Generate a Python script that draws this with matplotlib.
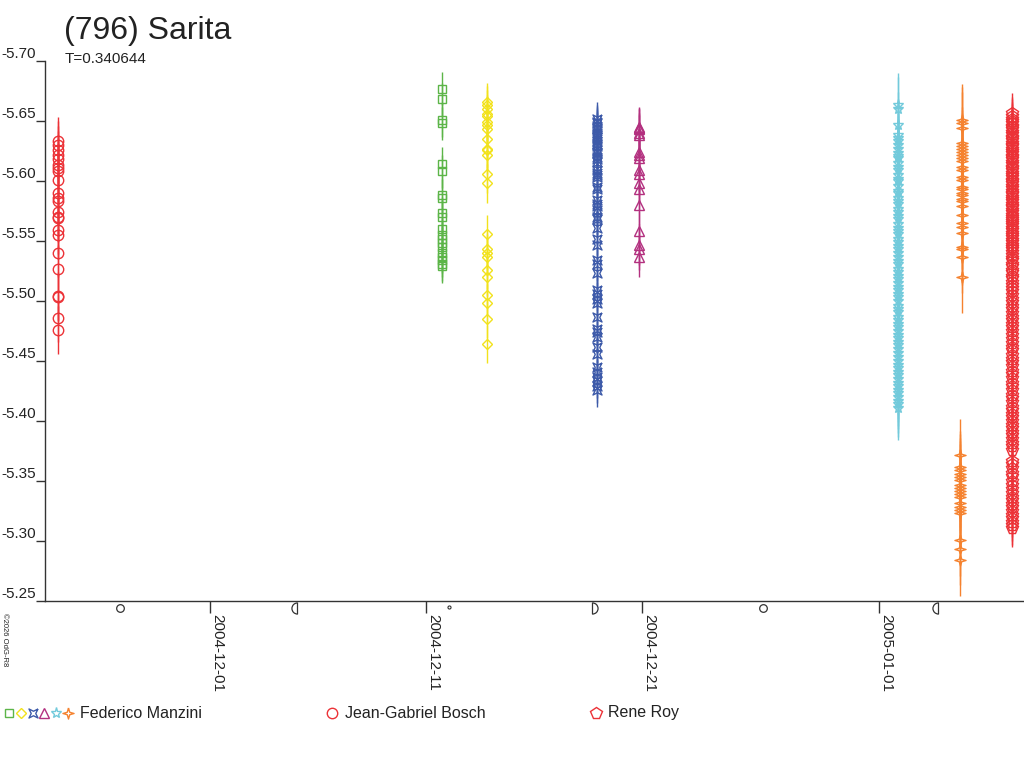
import numpy as np
import matplotlib
matplotlib.use('Agg')
from matplotlib import pyplot as plt
import matplotlib.dates as mdates
from matplotlib.path import Path
from datetime import datetime

plt.rcParams['font.family'] = ['Liberation Sans', 'DejaVu Sans']
plt.rcParams['axes.unicode_minus'] = False

title = '(796) Sarita'
subtitle = 'T=0.340644'
credit = '©2026 OdG-R8'

# --- sessions (date of session, reduced magnitudes, typical error) ---
bosch_date = '2004-11-23 23:00'
bosch_mag = [-5.633, -5.630, -5.626, -5.622, -5.618, -5.613, -5.611, -5.608, -5.601,
             -5.590, -5.586, -5.583, -5.574, -5.570, -5.569, -5.559, -5.555, -5.540,
             -5.527, -5.504, -5.503, -5.486, -5.476]
bosch_err = 0.020

man1_date = '2004-12-11 18:15'
man1_mag = [-5.677, -5.668, -5.651, -5.648, -5.614, -5.608, -5.588, -5.586, -5.573,
            -5.570, -5.560, -5.555, -5.552, -5.548, -5.545, -5.540, -5.537, -5.534,
            -5.531, -5.529]
man1_err = 0.014

man2_date = '2004-12-13 20:25'
man2_mag = [-5.666, -5.663, -5.660, -5.656, -5.654, -5.649, -5.647, -5.643, -5.635,
            -5.627, -5.626, -5.622, -5.606, -5.598, -5.556, -5.543, -5.540, -5.537,
            -5.526, -5.520, -5.505, -5.498, -5.485, -5.464]
man2_err = 0.016

man3_date = '2004-12-18 21:40'
man3_mag = [-5.652, -5.649, -5.648, -5.646, -5.644, -5.643, -5.640, -5.638, -5.637,
            -5.635, -5.633, -5.631, -5.629, -5.626, -5.624, -5.623, -5.620, -5.618,
            -5.616, -5.609, -5.607, -5.605, -5.603, -5.595, -5.593, -5.584, -5.581,
            -5.579, -5.576, -5.570, -5.568, -5.561, -5.552, -5.547, -5.534, -5.531,
            -5.523, -5.509, -5.506, -5.502, -5.498, -5.487, -5.477, -5.474, -5.470,
            -5.462, -5.456, -5.445, -5.441, -5.437, -5.433, -5.429, -5.426]
man3_err = 0.014

man4_date = '2004-12-20 20:25'
man4_mag = [-5.645, -5.644, -5.643, -5.640, -5.638, -5.624, -5.622, -5.619, -5.609,
            -5.606, -5.598, -5.593, -5.580, -5.558, -5.547, -5.543, -5.537]
man4_err = 0.017

man5_date = '2005-01-01 20:50'
man5_mag = [-5.663, -5.660, -5.647, -5.638, -5.636, -5.633, -5.630, -5.627, -5.623,
            -5.621, -5.619, -5.615, -5.612, -5.609, -5.605, -5.602, -5.600, -5.596,
            -5.592, -5.590, -5.586, -5.583, -5.581, -5.577, -5.574, -5.571, -5.568,
            -5.564, -5.561, -5.558, -5.556, -5.552, -5.549, -5.546, -5.543, -5.540,
            -5.537, -5.533, -5.531, -5.527, -5.524, -5.521, -5.518, -5.515, -5.512,
            -5.509, -5.506, -5.503, -5.500, -5.496, -5.493, -5.491, -5.487, -5.484,
            -5.481, -5.478, -5.475, -5.472, -5.469, -5.466, -5.463, -5.460, -5.457,
            -5.453, -5.450, -5.447, -5.444, -5.441, -5.438, -5.435, -5.432, -5.429,
            -5.426, -5.423, -5.420, -5.417, -5.414, -5.411]
man5_err = 0.027

man6a_date = '2005-01-04 19:55'
man6a_mag = [-5.651, -5.648, -5.644, -5.632, -5.629, -5.627, -5.624, -5.622, -5.619,
             -5.617, -5.612, -5.609, -5.603, -5.601, -5.595, -5.593, -5.590, -5.588,
             -5.585, -5.583, -5.579, -5.572, -5.565, -5.562, -5.557, -5.545, -5.543,
             -5.537, -5.520]
man6b_date = '2005-01-04 18:15'
man6b_mag = [-5.372, -5.362, -5.359, -5.356, -5.353, -5.351, -5.347, -5.344, -5.342,
             -5.339, -5.337, -5.332, -5.328, -5.326, -5.323, -5.301, -5.293, -5.284]
man6_err = 0.030

roy_date = '2005-01-07 03:20'
roy_mag = [-5.657, -5.654, -5.652, -5.650, -5.648, -5.646, -5.645, -5.643, -5.641,
           -5.639, -5.637, -5.636, -5.634, -5.632, -5.630, -5.629, -5.627, -5.625,
           -5.623, -5.621, -5.620, -5.618, -5.616, -5.614, -5.612, -5.611, -5.609,
           -5.607, -5.605, -5.603, -5.601, -5.600, -5.598, -5.596, -5.594, -5.592,
           -5.590, -5.589, -5.587, -5.585, -5.583, -5.581, -5.579, -5.578, -5.576,
           -5.574, -5.572, -5.570, -5.568, -5.567, -5.565, -5.563, -5.561, -5.559,
           -5.557, -5.555, -5.553, -5.551, -5.549, -5.547, -5.545, -5.543, -5.541,
           -5.538, -5.536, -5.534, -5.531, -5.529, -5.526, -5.524, -5.521, -5.519,
           -5.516, -5.513, -5.511, -5.508, -5.505, -5.502, -5.499, -5.496, -5.493,
           -5.490, -5.487, -5.484, -5.481, -5.478, -5.475, -5.472, -5.468, -5.465,
           -5.462, -5.459, -5.455, -5.452, -5.449, -5.446, -5.442, -5.439, -5.436,
           -5.432, -5.429, -5.426, -5.422, -5.419, -5.416, -5.412, -5.409, -5.406,
           -5.403, -5.400, -5.397, -5.394, -5.391, -5.388, -5.385, -5.382, -5.379,
           -5.376, -5.367, -5.364, -5.361, -5.357, -5.354, -5.350, -5.347, -5.343,
           -5.340, -5.337, -5.334, -5.331, -5.328, -5.325, -5.322, -5.319, -5.316,
           -5.313, -5.311]
roy_err = 0.016

# moon phases shown under the axis
moon_dates = ['2004-11-26 20:07', '2004-12-05 00:53', '2004-12-12 01:29',
              '2004-12-18 16:40', '2004-12-26 15:06', '2005-01-03 17:46']
moon_phase = ['full', 'last', 'new', 'first', 'full', 'last']

x_ticks = ['2004-12-01', '2004-12-11', '2004-12-21', '2005-01-01']
x_range = ['2004-11-23 08:40', '2005-01-07 16:50']
y_ticks = [-5.70, -5.65, -5.60, -5.55, -5.50, -5.45, -5.40, -5.35, -5.30, -5.25]

observers = ['Federico Manzini', 'Jean-Gabriel Bosch', 'Rene Roy']


def d(s):
    fmt = '%Y-%m-%d %H:%M' if ' ' in s else '%Y-%m-%d'
    return datetime.strptime(s, fmt)


# custom marker shapes
quad = [(1, 1), (0, 0.5), (-1, 1), (-0.5, 0), (-1, -1), (0, -0.5), (1, -1), (0.5, 0), (1, 1)]
spark = [(0, 1), (0.22, 0.22), (1, 0), (0.22, -0.22), (0, -1), (-0.22, -0.22), (-1, 0),
         (-0.22, 0.22), (0, 1)]


def half(t1, t2):
    arc = Path.arc(t1, t2)
    verts = np.vstack([arc.vertices, arc.vertices[:1]])
    codes = list(arc.codes) + [Path.CLOSEPOLY]
    return Path(verts, codes)


GREEN, YELLOW, BLUE, PURPLE = '#5cb548', '#f2e21c', '#3d5aa9', '#b3307f'
CYAN, ORANGE, RED = '#72cadb', '#f5822f', '#ec3237'

sessions = [
    (bosch_date, bosch_mag, bosch_err, RED, 'o', 7.5),
    (man1_date, man1_mag, man1_err, GREEN, 's', 5.5),
    (man2_date, man2_mag, man2_err, YELLOW, 'D', 5.0),
    (man3_date, man3_mag, man3_err, BLUE, quad, 6.5),
    (man4_date, man4_mag, man4_err, PURPLE, '^', 7.5),
    (man5_date, man5_mag, man5_err, CYAN, '*', 8.0),
    (man6a_date, man6a_mag, man6_err, ORANGE, spark, 8.0),
    (man6b_date, man6b_mag, man6_err, ORANGE, spark, 8.0),
    (roy_date, roy_mag, roy_err, RED, 'p', 8.5),
]

fig = plt.figure(figsize=(10.24, 7.68), dpi=100)
ax = fig.add_axes([45 / 1024, 1 - 601 / 768, 979 / 1024, 540 / 768])

for date, mags, err, col, mk, ms in sessions:
    xs = [d(date)] * len(mags)
    ax.errorbar(xs, mags, yerr=err, fmt='none', ecolor=col, elinewidth=1, capsize=0)
    ax.plot(xs, mags, ls='none', marker=mk, ms=ms, mfc='none', mec=col, mew=1)

ax.set_xlim(d(x_range[0]), d(x_range[1]))
ax.set_ylim(-5.25, -5.70)

for s in ['top', 'right']:
    ax.spines[s].set_visible(False)
for s in ['left', 'bottom']:
    ax.spines[s].set_color('#333333')
    ax.spines[s].set_linewidth(1)

ax.set_yticks(y_ticks)
ax.set_yticklabels(['%.2f' % v for v in y_ticks])
ax.tick_params(axis='y', direction='out', length=6.5, width=1, color='#333333',
               labelsize=11, labelcolor='#222222', pad=0)
for lbl in ax.get_yticklabels():
    lbl.set_va('bottom')

ax.set_xticks([d(t) for t in x_ticks])
ax.set_xticklabels(x_ticks)
ax.tick_params(axis='x', direction='out', length=8.6, width=1, color='#333333',
               labelsize=11, labelcolor='#222222', pad=0.5)
plt.setp(ax.get_xticklabels(), rotation=270, ha='left', va='top')

# moon phase symbols just under the axis
trans = ax.get_xaxis_transform()
for md, ph in zip(moon_dates, moon_phase):
    if ph == 'full':
        ax.plot(d(md), -0.013, marker='o', ms=5.5, mfc='none', mec='#333333', mew=0.9,
                transform=trans, clip_on=False)
    elif ph == 'new':
        ax.plot(d(md), -0.011, marker='o', ms=2.2, mfc='none', mec='#333333', mew=0.8,
                transform=trans, clip_on=False)
    elif ph == 'last':
        ax.plot(d(md), -0.013, marker=half(90, 270), ms=8, mfc='none', mec='#333333',
                mew=0.9, transform=trans, clip_on=False)
    else:
        ax.plot(d(md), -0.013, marker=half(-90, 90), ms=8, mfc='none', mec='#333333',
                mew=0.9, transform=trans, clip_on=False)

fig.text(64 / 1024, 1 - 39 / 768, title, fontsize=23, color='#222222', va='baseline')
fig.text(65 / 1024, 1 - 63 / 768, subtitle, fontsize=11, color='#222222', va='baseline')
fig.text(1 / 1024, 1 - 613 / 768, credit, fontsize=5.5, color='#222222', rotation=270,
         ha='left', va='top')

# legend along the bottom
lax = fig.add_axes([0, 0, 1, 1])
lax.set_xlim(0, 1024)
lax.set_ylim(768, 0)
lax.axis('off')
ly = 713
man_marks = [(GREEN, 's', 5.5), (YELLOW, 'D', 5.0), (BLUE, quad, 6.5),
             (PURPLE, '^', 7.5), (CYAN, '*', 8.0), (ORANGE, spark, 8.0)]
for i, (col, mk, ms) in enumerate(man_marks):
    lax.plot(9 + i * 11.8, ly, marker=mk, ms=ms, mfc='none', mec=col, mew=1)
lax.text(80, ly, observers[0], fontsize=11.5, color='#222222', va='center')
lax.plot(332, ly, marker='o', ms=7.5, mfc='none', mec=RED, mew=1)
lax.text(345, ly, observers[1], fontsize=11.5, color='#222222', va='center')
lax.plot(596, ly, marker='p', ms=8.5, mfc='none', mec=RED, mew=1)
lax.text(608, ly, observers[2], fontsize=11.5, color='#222222', va='center')

fig.savefig('out.png', dpi=100, facecolor='white')
